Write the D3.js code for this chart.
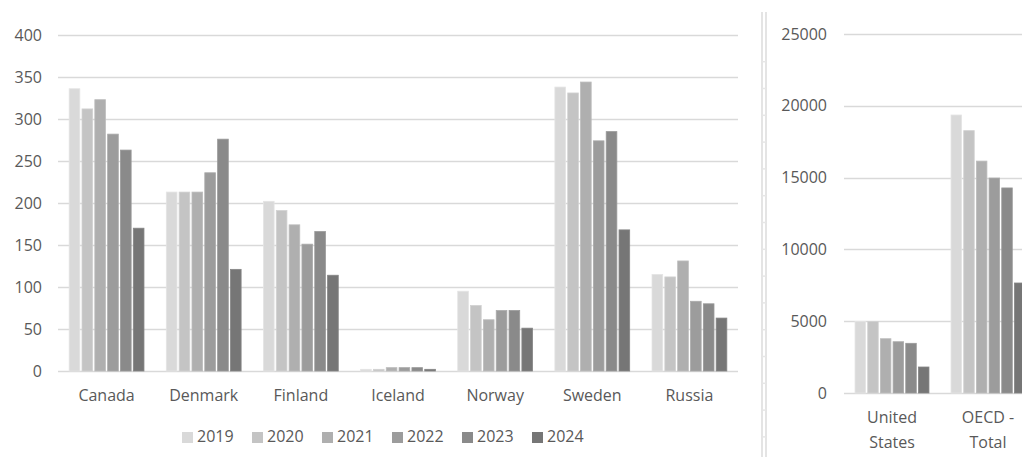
<!DOCTYPE html>
<html>
<head>
<meta charset="utf-8">
<script src="https://cdn.jsdelivr.net/npm/d3@7"></script>
<style>
  html, body { margin: 0; padding: 0; background: #fff; }
  svg { display: block; }
  text { font-family: "Open Sans", "Noto Sans", sans-serif; fill: #595959; }
</style>
</head>
<body>
<svg id="chart" width="1022" height="457"></svg>
<script>
// ---- Data ----
const years = ["2019", "2020", "2021", "2022", "2023", "2024"];
const leftCategories = ["Canada", "Denmark", "Finland", "Iceland", "Norway", "Sweden", "Russia"];
const canada  = [336, 312, 323, 282, 263, 170];
const denmark = [213, 213, 213, 236, 276, 121];
const finland = [202, 191, 174, 151, 166, 114];
const iceland = [2, 2, 4, 4, 4, 2];
const norway  = [95, 78, 61, 72, 72, 51];
const sweden  = [338, 331, 344, 274, 285, 168];
const russia  = [115, 112, 131, 83, 80, 63];
const leftValues = [canada, denmark, finland, iceland, norway, sweden, russia];
const leftTicks = [0, 50, 100, 150, 200, 250, 300, 350, 400];

const rightCategories = [["United", "States"], ["OECD -", "Total"]];
const unitedStates = [4980, 4980, 3780, 3570, 3460, 1810];
const oecdTotal    = [19360, 18270, 16150, 14970, 14280, 7660];
const rightValues = [unitedStates, oecdTotal];
const rightTicks = [0, 5000, 10000, 15000, 20000, 25000];

const colors = ["#d9d9d9", "#c4c4c4", "#afafaf", "#9c9c9c", "#8a8a8a", "#767676"];
const strokes = ["#e4e4e4", "#d2d2d2", "#bdbdbd", "#ababab", "#999999", "#858585"];

const svg = d3.select("#chart");
const fontSize = 16;

function drawPanel(opts) {
  const g = svg.append("g");
  const y = d3.scaleLinear().domain(opts.domain).range([opts.y0, opts.y1]);
  const x = d3.scaleBand().domain(d3.range(opts.cats.length)).range([opts.x0, opts.x1]);
  const groupW = x.bandwidth() * 0.77;
  const xi = d3.scaleBand().domain(years).range([0, groupW]).paddingInner(0.17);

  // gridlines
  g.selectAll("line.grid").data(opts.ticks).join("line")
    .attr("x1", opts.x0).attr("x2", opts.gridEnd)
    .attr("y1", d => Math.round(y(d)) + 0.5).attr("y2", d => Math.round(y(d)) + 0.5)
    .attr("stroke", "#d9d9d9").attr("stroke-width", 1.4);

  // tick labels
  g.selectAll("text.tick").data(opts.ticks).join("text")
    .attr("x", opts.labelX).attr("y", d => y(d))
    .attr("dy", "0.35em").attr("text-anchor", "end")
    .style("font-size", fontSize + "px")
    .text(d => d);

  // bars
  opts.values.forEach((vals, ci) => {
    const gx = x(ci) + (x.bandwidth() - groupW) / 2;
    g.selectAll(null).data(vals).join("rect")
      .attr("x", (d, i) => gx + xi(years[i]))
      .attr("width", xi.bandwidth())
      .attr("y", d => y(d))
      .attr("height", d => y(0) - y(d))
      .attr("fill", (d, i) => colors[i])
      .attr("stroke", (d, i) => strokes[i])
      .attr("stroke-width", 0.8);
  });

  // category labels
  opts.cats.forEach((c, ci) => {
    const lines = Array.isArray(c) ? c : [c];
    lines.forEach((ln, li) => {
      g.append("text")
        .attr("x", x(ci) + x.bandwidth() / 2)
        .attr("y", opts.catY + li * 25)
        .attr("dy", "0.35em")
        .attr("text-anchor", "middle")
        .style("font-size", fontSize + "px")
        .text(ln);
    });
  });
}

drawPanel({
  cats: leftCategories, values: leftValues, ticks: leftTicks,
  domain: [0, 400], y0: 371, y1: 35, x0: 58, x1: 738, gridEnd: 738,
  labelX: 42, catY: 395
});

drawPanel({
  cats: rightCategories, values: rightValues, ticks: rightTicks,
  domain: [0, 25000], y0: 393, y1: 34, x0: 844, x1: 1036, gridEnd: 1022,
  labelX: 827, catY: 417
});

// separator double line
const sep = svg.append("g");
[762, 766].forEach(xx => {
  sep.append("line").attr("x1", xx).attr("x2", xx).attr("y1", 12).attr("y2", 457)
    .attr("stroke", "#dedede").attr("stroke-width", 1.6);
});
sep.selectAll("line.mark").data(d3.range(61.7, 457, 26.8)).join("line")
  .attr("x1", 762).attr("x2", 766).attr("y1", d => d).attr("y2", d => d)
  .attr("stroke", "#e6e6e6").attr("stroke-width", 1.5);

// legend
const legend = svg.append("g");
years.forEach((yr, i) => {
  const lx = 182 + i * 70;
  legend.append("rect").attr("x", lx).attr("y", 432).attr("width", 11).attr("height", 11)
    .attr("fill", colors[i]);
  legend.append("text").attr("x", lx + 15).attr("y", 436).attr("dy", "0.35em")
    .style("font-size", fontSize + "px").text(yr);
});
</script>
</body>
</html>
